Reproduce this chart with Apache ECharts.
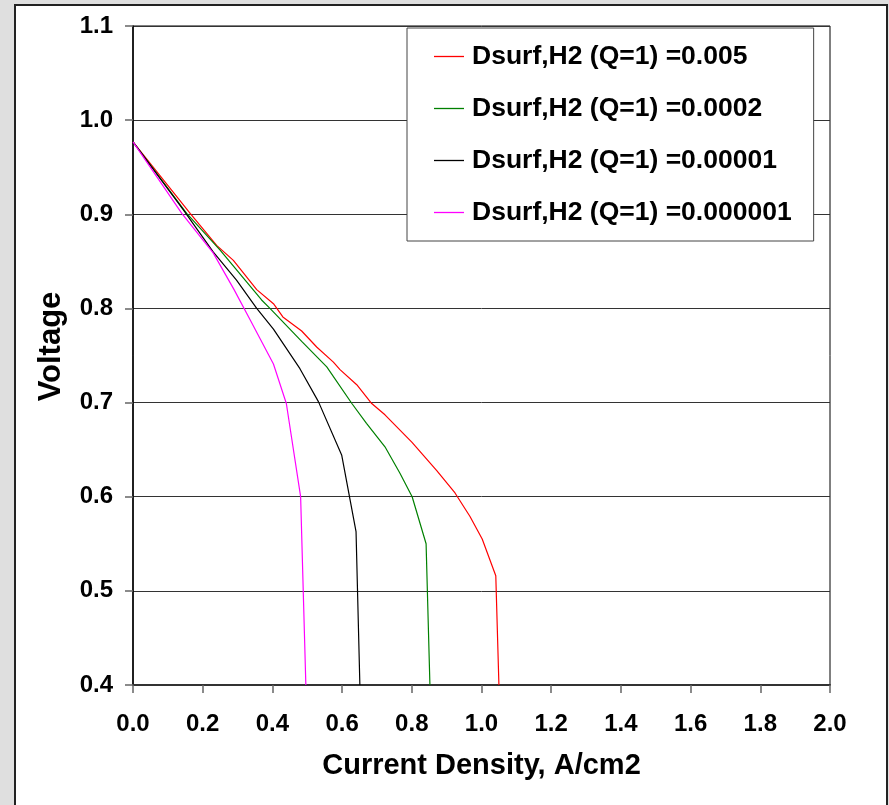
<!DOCTYPE html>
<html>
<head>
<meta charset="utf-8">
<script src="https://cdn.jsdelivr.net/npm/echarts@6/dist/echarts.min.js"></script>
<style>
html,body{margin:0;padding:0;background:#dfdfdf;}
#chart{width:889px;height:805px;}
</style>
</head>
<body>
<div id="chart"></div>
<script>
const seriesNames = [
  'Dsurf,H2 (Q=1) =0.005',
  'Dsurf,H2 (Q=1) =0.0002',
  'Dsurf,H2 (Q=1) =0.00001',
  'Dsurf,H2 (Q=1) =0.000001'
];
const seriesColors = ['#ff0000', '#008000', '#000000', '#ff00ff'];

const redData = [[0,0.977],[0.164,0.901],[0.24,0.867],[0.288,0.851],[0.355,0.82],[0.403,0.805],[0.43,0.791],[0.484,0.776],[0.527,0.759],[0.575,0.743],[0.594,0.735],[0.642,0.719],[0.685,0.699],[0.723,0.687],[0.8,0.658],[0.871,0.628],[0.924,0.604],[0.967,0.579],[1.002,0.555],[1.041,0.516],[1.05,0.4]];
const greenData = [[0,0.977],[0.154,0.901],[0.25,0.862],[0.369,0.809],[0.393,0.8],[0.484,0.765],[0.556,0.738],[0.628,0.699],[0.67,0.678],[0.723,0.653],[0.766,0.625],[0.801,0.6],[0.841,0.55],[0.852,0.4]];
const blackData = [[0,0.977],[0.144,0.905],[0.23,0.86],[0.297,0.83],[0.355,0.8],[0.403,0.778],[0.479,0.736],[0.532,0.701],[0.599,0.644],[0.64,0.563],[0.651,0.4]];
const magentaData = [[0,0.977],[0.14,0.901],[0.23,0.859],[0.29,0.82],[0.336,0.788],[0.403,0.741],[0.44,0.699],[0.481,0.6],[0.496,0.4]];
const allData = [redData, greenData, blackData, magentaData];

const xTicks = {min: 0, max: 2.0, interval: 0.2};
const yTicks = {min: 0.4, max: 1.1, interval: 0.1};

const FONT = '"Liberation Sans", Arial, sans-serif';
const chart = echarts.init(document.getElementById('chart'));
chart.setOption({
  backgroundColor: '#dfdfdf',
  animation: false,
  graphic: [{
    type: 'rect', z: -10, silent: true,
    shape: {x: 15, y: 5, width: 872, height: 830},
    style: {fill: '#ffffff', stroke: '#222', lineWidth: 2}
  }],
  grid: {left: 133, top: 26, right: 59, bottom: 120, show: true, borderColor: '#000', borderWidth: 1, backgroundColor: 'transparent'},
  legend: {
    left: 407, top: 28, orient: 'vertical',
    data: seriesNames,
    icon: 'rect',
    itemWidth: 30, itemHeight: 1.3, itemGap: 25,
    padding: [15, 22, 15, 27],
    backgroundColor: '#fff', borderColor: '#444', borderWidth: 1,
    textStyle: {fontFamily: FONT, fontWeight: 'bold', fontSize: 26.5, color: '#000', lineHeight: 27, padding: [0,0,0,3]}
  },
  xAxis: {
    type: 'value', min: xTicks.min, max: xTicks.max, interval: xTicks.interval,
    name: 'Current Density, A/cm2', nameLocation: 'middle', nameGap: 66,
    nameTextStyle: {fontFamily: FONT, fontWeight: 'bold', fontSize: 29, color: '#000'},
    axisLine: {onZero: false, lineStyle: {color: '#333', width: 2}},
    axisTick: {show: true, inside: false, length: 8, lineStyle: {color: '#666', width: 1.5}},
    axisLabel: {margin: 27, fontFamily: FONT, fontWeight: 'bold', fontSize: 24, color: '#000', formatter: v => v.toFixed(1)},
    splitLine: {show: false}
  },
  yAxis: {
    type: 'value', min: yTicks.min, max: yTicks.max, interval: yTicks.interval,
    name: 'Voltage', nameLocation: 'middle', nameGap: 66,
    nameTextStyle: {fontFamily: FONT, fontWeight: 'bold', fontSize: 31, color: '#000', padding: [0, 0, 0, 18]},
    axisLine: {show: true, onZero: false, lineStyle: {color: '#000', width: 1.5}},
    axisTick: {show: true, inside: false, length: 8, lineStyle: {color: '#666', width: 1.5}},
    axisLabel: {margin: 20, fontFamily: FONT, fontWeight: 'bold', fontSize: 24, color: '#000', formatter: v => v.toFixed(1)},
    splitLine: {show: true, lineStyle: {color: '#333', width: 1}}
  },
  series: allData.map((d, i) => ({
    name: seriesNames[i], type: 'line', data: d,
    symbol: 'none', smooth: false,
    lineStyle: {color: seriesColors[i], width: 1.2},
    itemStyle: {color: seriesColors[i]}
  }))
});
</script>
</body>
</html>
